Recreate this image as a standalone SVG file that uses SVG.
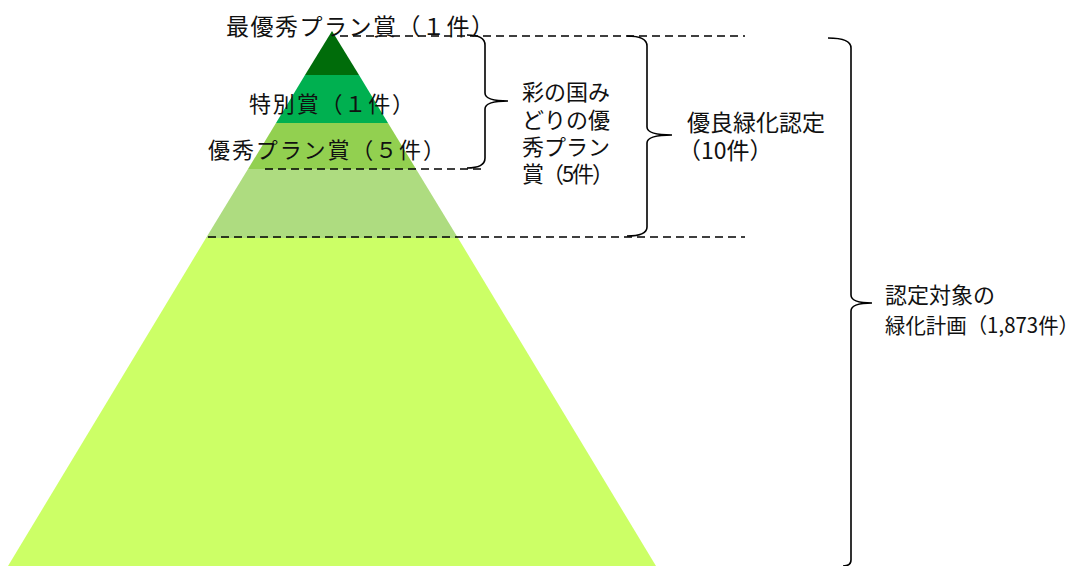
<svg xmlns="http://www.w3.org/2000/svg" width="1087" height="566" viewBox="0 0 1087 566">
<style>
text{font-family:"Noto Sans CJK JP","Noto Sans CJK SC",sans-serif;fill:#111;}
.dash{stroke:#000;stroke-width:1.6;stroke-dasharray:8,5;fill:none;}
.brace{stroke:#000;stroke-width:1.6;fill:none;}
</style>
<rect width="1087" height="566" fill="#fff"/>
<g id="pyramid">
<polygon id="layer5" points="206,238 458,238 656,566 8,566" fill="#CCFF66"/>
<polygon id="layer4" points="248,169 416,169 458,238 206,238" fill="#AEDC80"/>
<polygon id="layer3" points="276,123 388,123 416,169 248,169" fill="#92D050"/>
<polygon id="layer2" points="305,75 359,75 388,123 276,123" fill="#00B050"/>
<polygon id="layer1" points="332,31 359,75 305,75" fill="#006C0A"/>
</g>
<g id="connectors">
<line class="dash" x1="340" y1="36" x2="745" y2="36"/>
<line class="dash" x1="265" y1="169" x2="486" y2="169"/>
<line class="dash" x1="208" y1="237" x2="745" y2="237"/>
<path class="brace" d="M467,35 Q485,35 485,45 L485,93 Q485,101 508,101 Q485,101 485,109 L485,158 Q485,168 467,168"/>
<path class="brace" d="M627,36 Q647,36 647,46 L647,127 Q647,135 672,135 Q647,135 647,143 L647,227 Q647,236 627,236"/>
<path class="brace" d="M828,38 Q851,38 851,48 L851,295 Q851,303 872,303 Q851,303 851,311 L851,560 Q851,566 843,566"/>
</g>
<g id="label-top">
<text x="226" y="35" font-size="23" textLength="268" lengthAdjust="spacing">最優秀プラン賞（１件）</text>
</g>
<g id="label-special">
<text x="249" y="112" font-size="22" textLength="165" lengthAdjust="spacing">特別賞（１件）</text>
</g>
<g id="label-excellent">
<text x="208" y="158" font-size="22" textLength="237" lengthAdjust="spacing">優秀プラン賞（５件）</text>
</g>
<g id="label-sainokuni">
<text x="522" y="100" font-size="22">彩の国み</text>
<text x="522" y="128" font-size="22">どりの優</text>
<text x="522" y="155" font-size="22">秀プラン</text>
<text x="522" y="182" font-size="22" textLength="92" lengthAdjust="spacing">賞（5件）</text>
</g>
<g id="label-yuryo">
<text x="687" y="131" font-size="23">優良緑化認定</text>
<text x="678" y="159" font-size="23">（10件）</text>
</g>
<g id="label-target">
<text x="885" y="303" font-size="22">認定対象の</text>
<text x="885" y="333" font-size="21" textLength="194" lengthAdjust="spacingAndGlyphs">緑化計画（1,873件）</text>
</g>
</svg>
